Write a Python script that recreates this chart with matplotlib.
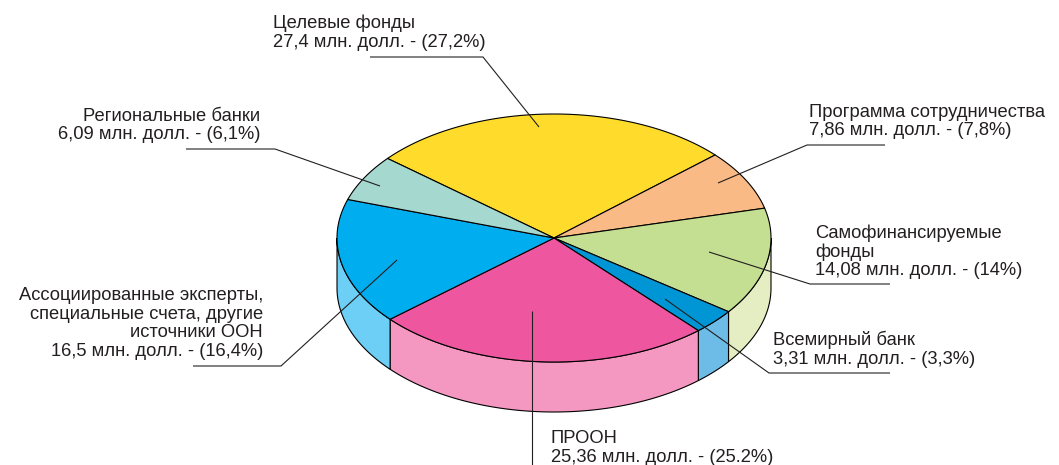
import numpy as np
import matplotlib
matplotlib.use("Agg")
import matplotlib.pyplot as plt
from matplotlib.patches import Polygon

# data (млн. долл.), in clockwise order starting from "Целевые фонды"
names = ["Целевые фонды",
         "Программа сотрудничества",
         "Самофинансируемые\nфонды",
         "Всемирный банк",
         "ПРООН",
         "Ассоциированные эксперты,\nспециальные счета, другие\nисточники ООН",
         "Региональные банки"]
values = [27.4, 7.86, 14.08, 3.31, 25.36, 16.5, 6.09]
shares = ["27,2%", "7,8%", "14%", "3,3%", "25.2%", "16,4%", "6,1%"]

top_colors = ["#FFDC2B", "#F9BA86", "#C4DF92", "#0096D6", "#EE579F", "#00AEEF", "#A5D8CF"]
side_colors = ["#FFEB8A", "#FCD9BA", "#E5EEC3", "#6DBBE7", "#F498C2", "#6DCFF6", "#CDEAE4"]

# pie geometry (pixels)
cx, cy = 554, 238
ra, rb = 217, 124
depth = 50
start = 140.1

# label layout: text anchor x, first baseline y, alignment, leader polyline
layout = [
    dict(x=273, y=28.5, ha="left", line=[(370, 57), (483, 57), (539, 127)]),
    dict(x=809, y=116.5, ha="left", line=[(885, 145), (807, 145), (718, 183)]),
    dict(x=815, y=238, ha="left", line=[(890, 284), (810, 284), (709, 252)]),
    dict(x=773, y=345, ha="left", line=[(890, 373), (769, 373), (665, 299)]),
    dict(x=551, y=443, ha="left", line=[(532, 465), (532, 311)]),
    dict(x=263, y=300, ha="right", line=[(193, 366), (281, 366), (397, 260)]),
    dict(x=260, y=120.5, ha="right", line=[(186, 149), (275, 149), (380, 186)]),
]
line_step = 18.7

fig = plt.figure(figsize=(10.59, 4.65), dpi=100)
ax = fig.add_axes([0, 0, 1, 1])
ax.set_xlim(0, 1059)
ax.set_ylim(465, 0)
ax.axis("off")

spans = np.array(values) / sum(values) * 360.0
bounds = start - np.concatenate([[0], np.cumsum(spans)])


def arc(t0, t1, dy=0, n=80):
    t = np.radians(np.linspace(t0, t1, n))
    return np.column_stack([cx + ra * np.cos(t), cy - rb * np.sin(t) + dy])


# side walls (only the front half is visible)
for i in range(len(values)):
    hi, lo = bounds[i], bounds[i + 1]
    a0, a1 = min(hi, 0), max(lo, -180)
    if a0 <= a1:
        continue
    top = arc(a0, a1)
    bot = arc(a1, a0, depth)
    ax.add_patch(Polygon(np.vstack([top, bot]), closed=True, facecolor=side_colors[i],
                         edgecolor="black", lw=0.8, joinstyle="miter"))

# top face wedges
for i in range(len(values)):
    pts = np.vstack([[cx, cy], arc(bounds[i], bounds[i + 1])])
    ax.add_patch(Polygon(pts, closed=True, facecolor=top_colors[i],
                         edgecolor="black", lw=0.8, joinstyle="round"))

# labels and leaders
for name, v, s, lay in zip(names, values, shares, layout):
    lines = name.split("\n") + [str(v).replace(".", ",") + " млн. долл. - (" + s + ")"]
    for k, txt in enumerate(lines):
        ax.text(lay["x"], lay["y"] + k * line_step, txt, ha=lay["ha"], va="baseline",
                fontsize=13.2, family="Liberation Sans", color="#231F20")
    xs, ys = zip(*lay["line"])
    ax.plot(xs, ys, color="#231F20", lw=0.8, solid_capstyle="butt")

fig.savefig("out.png", dpi=100)
